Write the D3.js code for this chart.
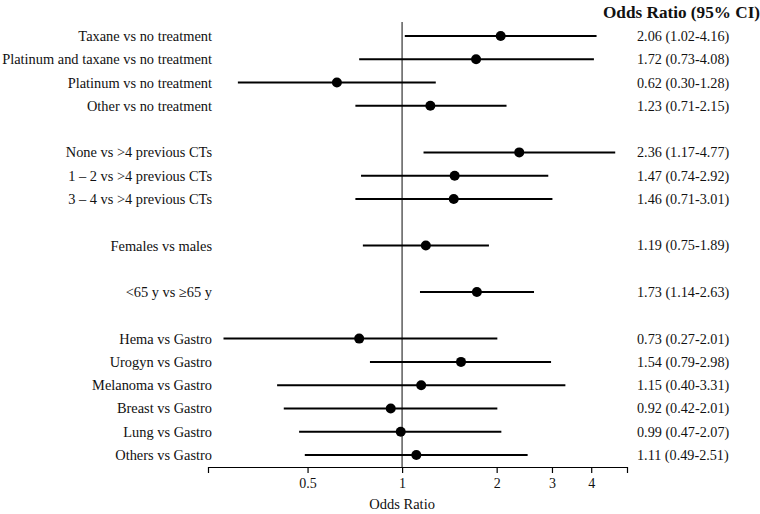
<!DOCTYPE html>
<html>
<head>
<meta charset="utf-8">
<script src="https://cdn.jsdelivr.net/npm/d3@7"></script>
<style>
  html, body { margin: 0; padding: 0; background: #fff; }
  svg { display: block; font-family: "Liberation Serif", "Times New Roman", serif; }
</style>
</head>
<body>
<div id="chart"></div>
<script>
// ---- data ----
const categories = [
  "Taxane vs no treatment",
  "Platinum and taxane vs no treatment",
  "Platinum vs no treatment",
  "Other vs no treatment",
  "None vs >4 previous CTs",
  "1 \u2013 2 vs >4 previous CTs",
  "3 \u2013 4 vs >4 previous CTs",
  "Females vs males",
  "<65 y vs \u226565 y",
  "Hema vs Gastro",
  "Urogyn vs Gastro",
  "Melanoma vs Gastro",
  "Breast vs Gastro",
  "Lung vs Gastro",
  "Others vs Gastro"
];
const groups = ["treat","treat","treat","treat","ct","ct","ct","sex","age","tumor","tumor","tumor","tumor","tumor","tumor"];
const oddsRatio = [2.06, 1.72, 0.62, 1.23, 2.36, 1.47, 1.46, 1.19, 1.73, 0.73, 1.54, 1.15, 0.92, 0.99, 1.11];
const ciLow     = [1.02, 0.73, 0.30, 0.71, 1.17, 0.74, 0.71, 0.75, 1.14, 0.27, 0.79, 0.40, 0.42, 0.47, 0.49];
const ciHigh    = [4.16, 4.08, 1.28, 2.15, 4.77, 2.92, 3.01, 1.89, 2.63, 2.01, 2.98, 3.31, 2.01, 2.07, 2.51];
const xTicks = [0.5, 1, 2, 3, 4];
const xTickLabels = ["0.5", "1", "2", "3", "4"];
const headerText = "Odds Ratio (95% CI)";
const axisTitle = "Odds Ratio";

// ---- layout ----
const W = 760, H = 514;
const svg = d3.select("#chart").append("svg").attr("width", W).attr("height", H);

// slot positions: one empty slot between groups
const slots = [];
let s = 0;
groups.forEach((g, i) => {
  if (i > 0 && g !== groups[i - 1]) s += 1;
  slots.push(s);
  s += 1;
});
const nSlots = s;

const y = d3.scaleLinear().domain([0, nSlots - 1]).range([36, 455]);
const x = d3.scaleLog().domain([0.241, 5.2]).range([208, 627]);
const axisY = 467;

// reference line at OR = 1
svg.append("line")
  .attr("x1", x(1)).attr("x2", x(1))
  .attr("y1", 22).attr("y2", axisY)
  .attr("stroke", "#666").attr("stroke-width", 1.6);

// x axis
const axis = d3.axisBottom(x)
  .tickValues(xTicks)
  .tickFormat((d, i) => xTickLabels[i])
  .tickSizeOuter(0)
  .tickSize(6)
  .tickPadding(5);
const gAxis = svg.append("g").attr("transform", `translate(0,${axisY})`).call(axis);
gAxis.select(".domain").attr("stroke", "#000").attr("stroke-width", 1.2);
gAxis.selectAll(".tick line").attr("stroke", "#000").attr("stroke-width", 1.2);
gAxis.selectAll(".tick text")
  .attr("font-family", "Liberation Serif, serif")
  .attr("font-size", 14).attr("fill", "#111");

svg.append("text")
  .attr("x", x(1)).attr("y", 509)
  .attr("text-anchor", "middle")
  .attr("font-size", 14.5).attr("fill", "#111")
  .text(axisTitle);

// rows
const rows = categories.map((c, i) => ({
  label: c, or: oddsRatio[i], lo: ciLow[i], hi: ciHigh[i], slot: slots[i]
}));

const g = svg.append("g");
g.selectAll("line.ci").data(rows).join("line")
  .attr("class", "ci")
  .attr("x1", d => x(d.lo)).attr("x2", d => x(d.hi))
  .attr("y1", d => y(d.slot)).attr("y2", d => y(d.slot))
  .attr("stroke", "#000").attr("stroke-width", 2);

g.selectAll("circle.pt").data(rows).join("circle")
  .attr("class", "pt")
  .attr("cx", d => x(d.or)).attr("cy", d => y(d.slot))
  .attr("r", 5).attr("fill", "#000");

// left labels
g.selectAll("text.lbl").data(rows).join("text")
  .attr("class", "lbl")
  .attr("x", 212).attr("y", d => y(d.slot))
  .attr("dy", "0.35em")
  .attr("text-anchor", "end")
  .attr("font-size", 14.4).attr("fill", "#111")
  .text(d => d.label);

// right column values
g.selectAll("text.val").data(rows).join("text")
  .attr("class", "val")
  .attr("x", 637).attr("y", d => y(d.slot))
  .attr("dy", "0.35em")
  .attr("font-size", 14.2).attr("fill", "#111")
  .text(d => `${d.or.toFixed(2)} (${d.lo.toFixed(2)}-${d.hi.toFixed(2)})`);

svg.append("text")
  .attr("x", 603).attr("y", 18)
  .attr("font-size", 17.2).attr("font-weight", "bold").attr("fill", "#111")
  .text(headerText);
</script>
</body>
</html>
